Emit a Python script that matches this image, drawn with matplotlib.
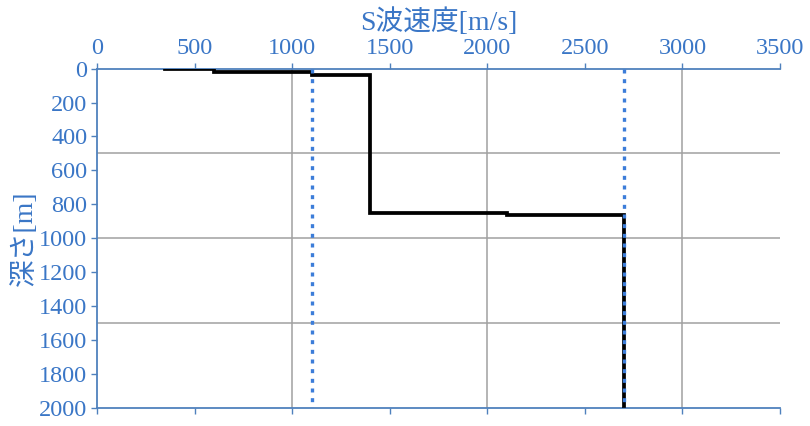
import numpy as np
import matplotlib
matplotlib.use("Agg")
import matplotlib.pyplot as plt

# ---- data ----
velocity = [350, 600, 1100, 1400, 2100, 2700]          # S-wave velocity of each layer [m/s]
layer_top = [0, 5, 20, 35, 850, 860]                   # top depth of each layer [m]
layer_bottom = [5, 20, 35, 850, 860, 2000]             # bottom depth of each layer [m]
ref_velocity = [1100, 2700]                            # dotted reference velocities [m/s]
xticks = [0, 500, 1000, 1500, 2000, 2500, 3000, 3500]
yticks = [0, 200, 400, 600, 800, 1000, 1200, 1400, 1600, 1800, 2000]
xgrid = [1000, 2000, 3000]
ygrid = [500, 1000, 1500]
xlabel = "S波速度[m/s]"
ylabel = "深さ[m]"

plt.rcParams['font.family'] = ['Liberation Serif', 'Noto Sans CJK JP', 'DejaVu Sans']

blue_text = '#3a76c6'
blue_axis = '#4f81bd'
blue_dot = '#3c7dd9'

fig = plt.figure(figsize=(8.1, 4.26), dpi=100)
ax = fig.add_axes([0.1198, 0.0423, 0.963 - 0.1198, 0.839 - 0.0423])

# grid
for g in xgrid:
    ax.axvline(g, color='#a0a0a0', lw=1.1, zorder=1)
for g in ygrid:
    ax.axhline(g, color='#a0a0a0', lw=1.1, zorder=1)

# profile
xs, ys = [], []
for v, t, b in zip(velocity, layer_top, layer_bottom):
    xs += [v, v]
    ys += [t, b]
ax.plot(xs, ys, color='black', lw=2.7, solid_joinstyle='miter', zorder=3)

for rv in ref_velocity:
    ax.plot([rv, rv], [0, 2000], color=blue_dot, lw=2.4,
            linestyle=(0, (1.2, 1.7)), dash_capstyle='butt', zorder=4)

ax.set_xlim(0, 3500)
ax.set_ylim(2000, 0)
ax.set_xticks(xticks)
ax.set_yticks(yticks)

ax.xaxis.set_ticks_position('both')
ax.xaxis.set_label_position('top')
ax.tick_params(axis='x', which='both', top=True, bottom=True, labeltop=True,
               labelbottom=False, direction='out', length=4, width=1,
               color=blue_axis, labelcolor=blue_text, labelsize=17.5, pad=3)
ax.tick_params(axis='y', direction='out', length=4, width=1,
               color=blue_axis, labelcolor=blue_text, labelsize=17.5, pad=3)

for s in ['left', 'top', 'bottom']:
    ax.spines[s].set_color(blue_axis)
    ax.spines[s].set_linewidth(1.3)
ax.spines['right'].set_visible(False)

ax.set_xlabel(xlabel, color=blue_text, fontsize=20, labelpad=6)
ax.set_ylabel(ylabel, color=blue_text, fontsize=20, labelpad=1)

fig.savefig('out.png', dpi=100)
